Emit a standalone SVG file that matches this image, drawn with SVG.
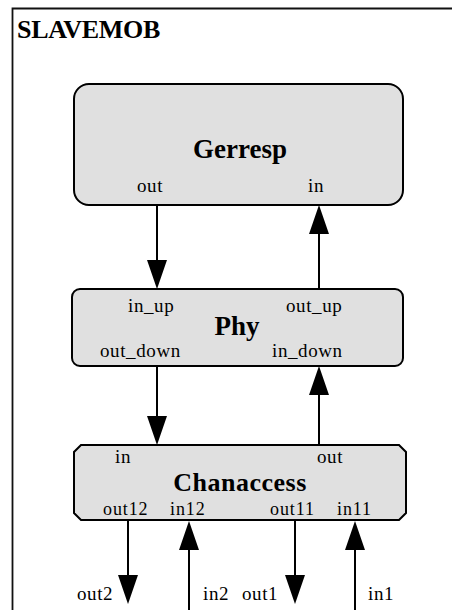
<svg xmlns="http://www.w3.org/2000/svg" width="452" height="610" viewBox="0 0 452 610">
  <defs>
    <style>
      .frame { fill: none; stroke: #111; stroke-width: 1.8; }
      .box { fill: #e0e0e0; stroke: #000; stroke-width: 2; }
      .title { font-family: "Liberation Serif", "Times New Roman", serif; font-weight: bold; font-size: 26px; fill: #000; letter-spacing: -0.3px; }
      .name { font-family: "Liberation Serif", "Times New Roman", serif; font-weight: bold; font-size: 27px; fill: #000; text-anchor: middle; }
      .port { font-family: "Liberation Serif", "Times New Roman", serif; font-size: 19px; fill: #000; letter-spacing: 0.6px; }
      .sm { font-size: 18px; letter-spacing: 0.9px; }
      .wire { stroke: #000; stroke-width: 2; fill: none; }
      .head { fill: #000; stroke: none; }
    </style>
  </defs>

  <rect width="452" height="610" fill="#fff"/>

  <!-- enclosing block frame -->
  <path class="frame" d="M12.5,620 V8.5 H460"/>
  <text class="title" x="17" y="38">SLAVEMOB</text>

  <!-- Gerresp -->
  <g id="gerresp">
    <rect class="box" x="74" y="84" width="329" height="121" rx="15" ry="15"/>
    <text class="name" x="240" y="158">Gerresp</text>
    <text class="port" x="137" y="192">out</text>
    <text class="port" x="308" y="192">in</text>
  </g>

  <!-- Phy -->
  <g id="phy">
    <rect class="box" x="72" y="289" width="331" height="77" rx="8" ry="8"/>
    <text class="name" x="237" y="335">Phy</text>
    <text class="port" x="128" y="312">in_up</text>
    <text class="port" x="286" y="312">out_up</text>
    <text class="port" x="100" y="357">out_down</text>
    <text class="port" x="272" y="357">in_down</text>
  </g>

  <!-- Chanaccess -->
  <g id="chanaccess">
    <path class="box" d="M81,445 H399 L406,452 V513 L399,520 H81 L74,513 V452 Z"/>
    <text class="name" x="240" y="491" style="font-size:26px;letter-spacing:0.5px">Chanaccess</text>
    <text class="port" x="115" y="463">in</text>
    <text class="port" x="317" y="463">out</text>
    <text class="port sm" x="103" y="515">out12</text>
    <text class="port sm" x="170" y="515">in12</text>
    <text class="port sm" x="270" y="515">out11</text>
    <text class="port sm" x="337" y="515">in11</text>
  </g>

  <!-- external port labels -->
  <g id="ports">
    <text class="port" x="77" y="600">out2</text>
    <text class="port" x="203" y="600">in2</text>
    <text class="port" x="242" y="600">out1</text>
    <text class="port" x="368" y="600">in1</text>
  </g>

  <!-- connectors -->
  <g id="connectors">
    <!-- Gerresp.out -> Phy.in_up -->
    <line class="wire" x1="157" y1="205" x2="157" y2="262"/>
    <polygon class="head" points="147,260 167,260 157,289"/>
    <!-- Phy.out_up -> Gerresp.in -->
    <line class="wire" x1="319" y1="289" x2="319" y2="232"/>
    <polygon class="head" points="309,234 329,234 319,205"/>
    <!-- Phy.out_down -> Chanaccess.in -->
    <line class="wire" x1="157" y1="366" x2="157" y2="418"/>
    <polygon class="head" points="147,416 167,416 157,445"/>
    <!-- Chanaccess.out -> Phy.in_down -->
    <line class="wire" x1="319" y1="445" x2="319" y2="393"/>
    <polygon class="head" points="309,395 329,395 319,366"/>
    <!-- Chanaccess.out12 -> out2 -->
    <line class="wire" x1="128" y1="520" x2="128" y2="577"/>
    <polygon class="head" points="118,575 138,575 128,604"/>
    <!-- in2 -> Chanaccess.in12 -->
    <line class="wire" x1="189" y1="612" x2="189" y2="548"/>
    <polygon class="head" points="179,550 199,550 189,521"/>
    <!-- Chanaccess.out11 -> out1 -->
    <line class="wire" x1="295" y1="520" x2="295" y2="577"/>
    <polygon class="head" points="285,575 305,575 295,604"/>
    <!-- in1 -> Chanaccess.in11 -->
    <line class="wire" x1="355" y1="612" x2="355" y2="548"/>
    <polygon class="head" points="345,550 365,550 355,521"/>
  </g>
</svg>
